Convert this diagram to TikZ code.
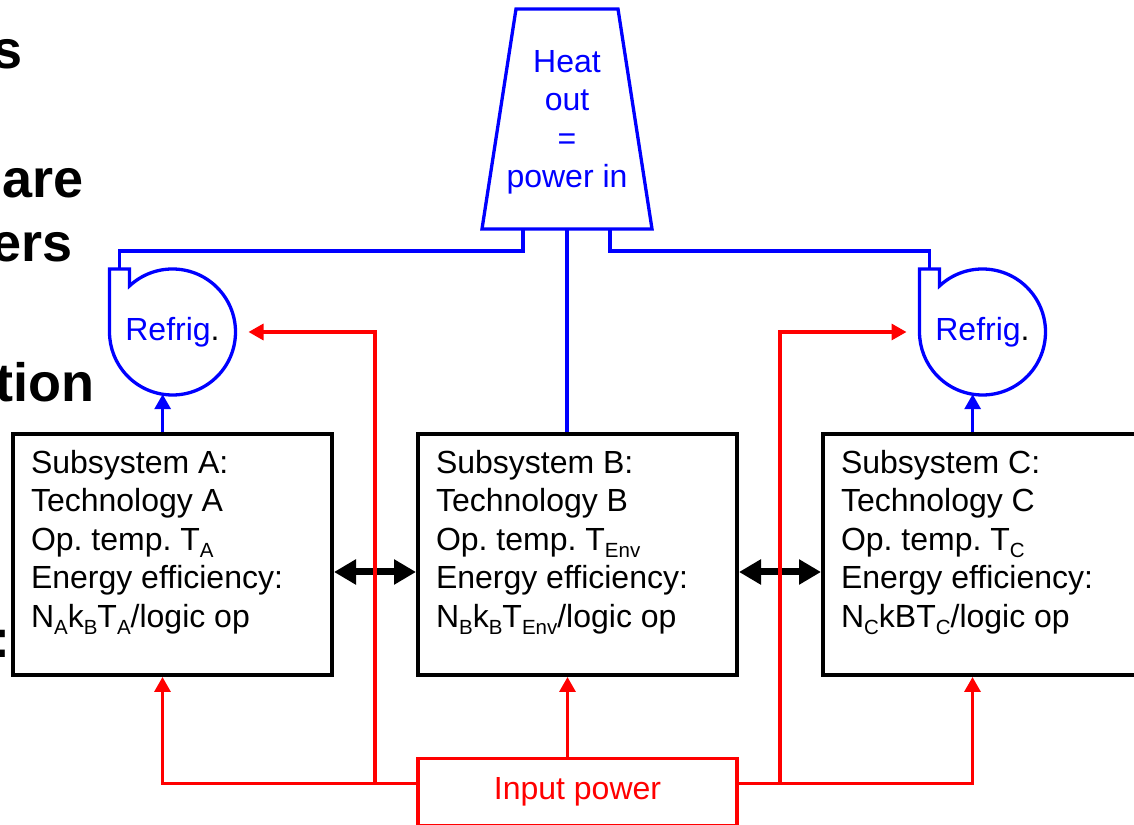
\documentclass[tikz,border=0pt]{standalone}
\usepackage{fontspec}
\setmainfont{Liberation Sans}
\usetikzlibrary{arrows.meta,positioning}
\definecolor{pipeblue}{RGB}{0,0,255}
\definecolor{powerred}{RGB}{255,0,0}
\newcommand{\lowidx}[1]{\raisebox{-7pt}{\fontsize{20.5}{20.5}\selectfont #1}}
\tikzset{
  subsys/.style={draw, rectangle, line width=4pt, minimum width=319pt, minimum height=241pt,
    text width=283pt, align=flush left, inner xsep=18pt, inner ysep=0pt, text depth=186pt},
  refrig/.style={circle, minimum size=126pt, inner sep=0pt, outer sep=0pt, text=pipeblue},
  pipe/.style={draw=pipeblue, line width=3.3pt},
  power/.style={draw=powerred, line width=3.3pt},
  link/.style={line width=7pt, {Triangle[length=22pt,width=24pt]}-{Triangle[length=22pt,width=24pt]}},
  cut/.style={anchor=base east, inner sep=0pt, font=\fontsize{54}{65}\selectfont\bfseries}
}
\begin{document}
\begin{tikzpicture}[x=1pt, y=1pt, node distance=405pt, >={Triangle[length=15pt,width=16pt]},
    font=\fontsize{32}{38.5}\selectfont\frenchspacing]
    \useasboundingbox (0,0) rectangle (1134,824);
    \clip (0,0) rectangle (1134,824);

    \node (slideS) [cut] at (22.5,755) {s};
    \node (slideAre) [cut] at (83.5,626) {are};
    \node (slideErs) [cut] at (73,562) {ers};
    \node (slideTion) [cut] at (95,422) {tion};
    \node (slideColon) [cut] at (10.5,166) {:};

    \node (B) [subsys] at (577.5,269.5) {Subsystem B:\\Technology B\\Op. temp. T\lowidx{Env}\\Energy efficiency:\\N\lowidx{B}k\lowidx{B}T\lowidx{Env}/logic op};
    \node (A) [subsys, left of=B] {Subsystem A:\\Technology A\\Op. temp. T\lowidx{A}\\Energy efficiency:\\N\lowidx{A}k\lowidx{B}T\lowidx{A}/logic op};
    \node (C) [subsys, right of=B] {Subsystem C:\\Technology C\\Op. temp. T\lowidx{C}\\Energy efficiency:\\N\lowidx{C}kBT\lowidx{C}/logic op};
    \node (inp) [draw=powerred, line width=3.3pt, minimum width=319pt, minimum height=67pt, text=powerred, below=80pt of B] {Input power};

    \node (refA) [refrig, above=37pt of A] {Refrig{\color{black}.}};
    \node (refC) [refrig, above=37pt of C] {Refrig{\color{black}.}};
    \node (heat) [minimum width=170pt, minimum height=220pt, inner sep=0pt, outer sep=0pt, align=flush center, text=pipeblue, text depth=0pt] at (567,705) {Heat\\out\\=\\power in};

    \draw[pipe] (heat.south west) -- (heat.south east) -- ([xshift=-34]heat.north east) -- ([xshift=34]heat.north west) -- cycle;
    \draw[pipe] (refA.west) -- (refA.west |- refA.north) -| (refA.133) arc[start angle=133, end angle=-180, radius=63pt] -- cycle;
    \draw[pipe] (refC.west) -- (refC.west |- refC.north) -| (refC.133) arc[start angle=133, end angle=-180, radius=63pt] -- cycle;

    \draw[pipe] ([xshift=-44]heat.south) -- ++(0,-22) -| ([xshift=10]refA.west |- refA.north);
    \draw[pipe] ([xshift=43]heat.south) -- ++(0,-22) -| ([xshift=10]refC.west |- refC.north);
    \draw[pipe] (heat.south) -- (heat.south |- B.north);
    \draw[pipe, ->] (refA.261 |- A.north) -- (refA.261);
    \draw[pipe, ->] (refC.261 |- C.north) -- (refC.261);

    \draw[link] ([yshift=-17.5]A.east) -- ([yshift=-17.5]B.west);
    \draw[link] ([yshift=-17.5]B.east) -- ([yshift=-17.5]C.west);

    \coordinate (jl) at (375,41);
    \coordinate (jr) at (780,41);
    \draw[power, ->] ([yshift=9]inp.west) -| ([xshift=-10]A.south);
    \draw[power, ->] ([yshift=9]inp.east) -| ([xshift=-10]C.south);
    \draw[power, ->] ([xshift=-10]inp.north) -- ([xshift=-10]B.south);
    \draw[power, ->] (jl) |- ([xshift=13]refA.east);
    \draw[power, ->] (jr) |- ([xshift=-13]refC.west);
\end{tikzpicture}
\end{document}
